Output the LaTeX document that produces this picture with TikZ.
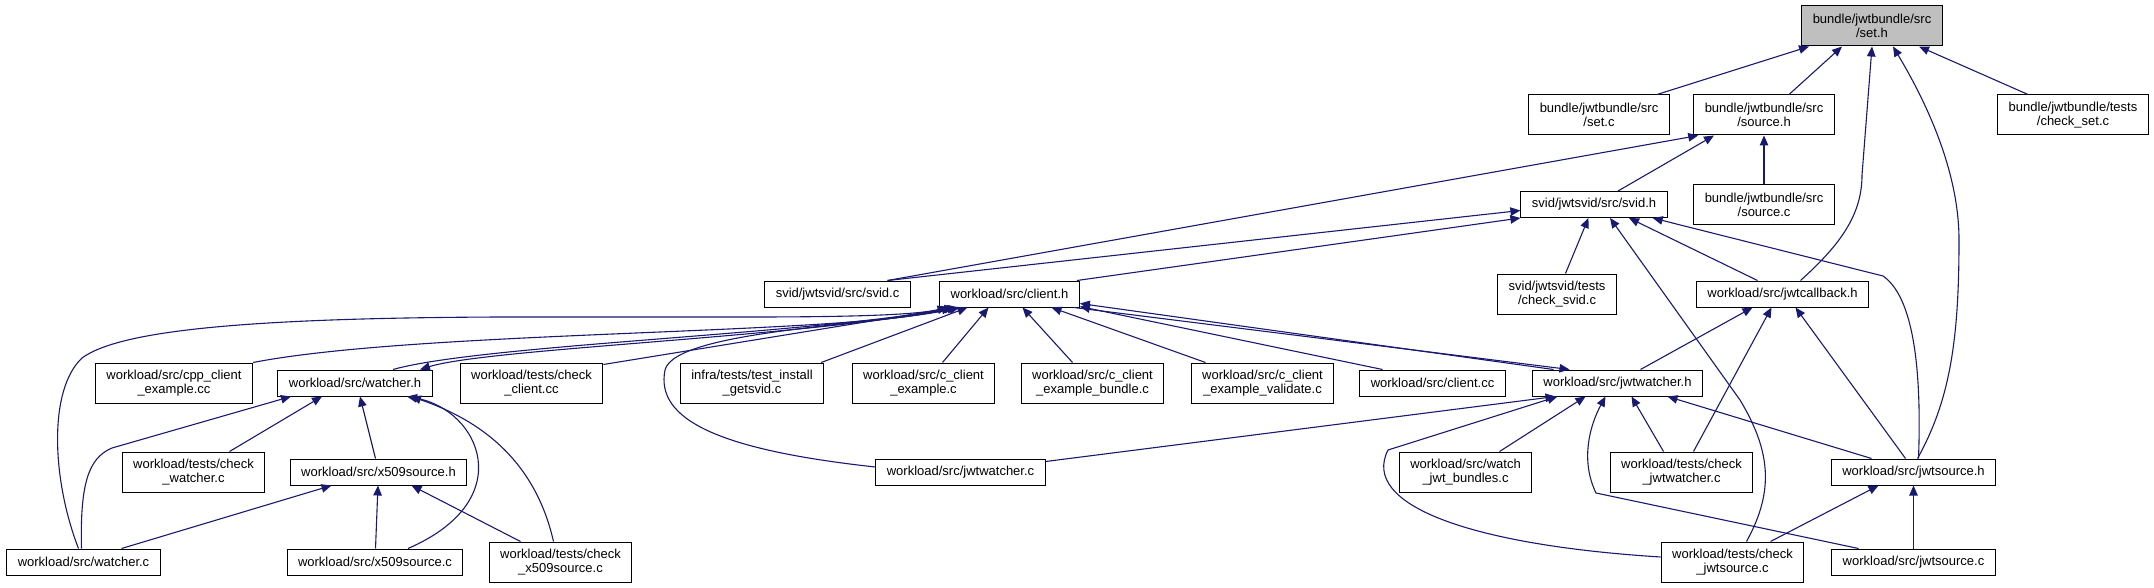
\documentclass[tikz,border=0pt]{standalone}
\usepackage{fontspec}
\setmainfont{Liberation Sans}
\usetikzlibrary{arrows.meta}
\usetikzlibrary{positioning}
\definecolor{c1}{rgb}{0.10, 0.10, 0.44}
\definecolor{c2}{rgb}{0.75, 0.75, 0.75}
\tikzset{
  file/.style={rectangle, draw=black, line width=1pt, fill=white, align=center, inner xsep=11pt, inner ysep=6pt, minimum height=26pt, font=\fontsize{13pt}{14pt}\selectfont},
  file2/.style={file, minimum height=40pt},
  filecur/.style={file2, fill=c2},
  dep/.style = {-{Triangle[length=10pt, width=8.5pt]}, c1, line width=1.1pt},
}

\begin{document}
\begin{tikzpicture}[x=1pt, y=-1pt]
\useasboundingbox (0,0) rectangle (2154,588);

% top
\node[filecur] (seth) at (1872,26) {bundle/jwtbundle/src\\/set.h};

\node[file2] (setc) at (1599,115) {bundle/jwtbundle/src\\/set.c};

\node[file2] (sourceh) at (1764,115) {bundle/jwtbundle/src\\/source.h};

\node[file2] (checkset) at (2073,115) {bundle/jwtbundle/tests\\/check\_set.c};

\node[file] (svidh) at (1594,204.5) {svid/jwtsvid/src/svid.h};

\node[file2] (sourcec) at (1764,204.5) {bundle/jwtbundle/src\\/source.c};

\node[file] (svidc) at (837.5,294) {svid/jwtsvid/src/svid.c};

\node[file] (clienth) at (1009.5,294) {workload/src/client.h};

\node[file2] (checksvid) at (1557,294) {svid/jwtsvid/tests\\/check\_svid.c};

\node[file] (jwtcallback) at (1782.5,294) {workload/src/jwtcallback.h};

% middle
\node[file2] (cppclient) at (174,383) {workload/src/cpp\_client\\\_example.cc};

\node[file] (watcherh) at (355,383) {workload/src/watcher.h};

\node[file2] (checkclient) at (531.5,383) {workload/tests/check\\\_client.cc};

\node[file2] (testinstall) at (752,383) {infra/tests/test\_install\\\_getsvid.c};

\node[file2] (cclientex) at (923.5,383) {workload/src/c\_client\\\_example.c};

\node[file2] (cclientbundle) at (1092.5,383) {workload/src/c\_client\\\_example\_bundle.c};

\node[file2] (cclientvalidate) at (1262.5,383) {workload/src/c\_client\\\_example\_validate.c};

\node[file] (clientcc) at (1432.5,383) {workload/src/client.cc};

\node[file] (jwtwatcherh) at (1617.5,383) {workload/src/jwtwatcher.h};

\node[file2] (checkwatcher) at (193.5,472) {workload/tests/check\\\_watcher.c};

\node[file] (x509h) at (378.5,472) {workload/src/x509source.h};

\node[file] (jwtwatcherc) at (960.5,472) {workload/src/jwtwatcher.c};

\node[file2] (watchjwt) at (1465.5,472) {workload/src/watch\\\_jwt\_bundles.c};

\node[file2] (checkjwtwatcher) at (1681.5,472) {workload/tests/check\\\_jwtwatcher.c};

\node[file] (jwtsourceh) at (1913.5,472) {workload/src/jwtsource.h};

% bottom
\node[file] (watcherc) at (83.5,562) {workload/src/watcher.c};

\node[file] (x509c) at (375,562) {workload/src/x509source.c};

\node[file2] (checkx509) at (560.5,562) {workload/tests/check\\\_x509source.c};

\node[file2] (checkjwtsource) at (1732.5,562) {workload/tests/check\\\_jwtsource.c};

\node[file] (jwtsourcec) at (1913.5,562) {workload/src/jwtsource.c};

% set.h
\draw ([xshift=58pt]setc.north) edge[dep] ([xshift=-63pt]seth.south);
\draw ([xshift=25pt]sourceh.north) edge[dep] ([xshift=-30pt]seth.south);
\draw ([xshift=-45pt]checkset.north) edge[dep] ([xshift=47pt]seth.south);
\draw[dep] ([xshift=18pt]jwtcallback.north) .. controls (1840,245) and (1862,215) .. (1862,175) -- (seth.south);
\draw[dep] ([xshift=4pt]jwtsourceh.north) .. controls (1950,400) and (1959,340) .. (1959,240) .. controls (1959,170) and (1925,100) .. ([xshift=21pt]seth.south);

% source.h
\draw ([xshift=50pt]svidc.north) edge[dep] ([xshift=5pt]sourceh.south west);
\draw ([xshift=24pt]svidh.north) edge[dep] ([xshift=-50pt]sourceh.south);
\draw (sourcec) edge[dep] (sourceh);

% svid.h
\draw ([xshift=50pt]svidc.north) edge[dep] ([yshift=-6pt]svidh.west);
\draw ([xshift=-3pt]clienth.north east) edge[dep] (svidh.south west);
\draw (checksvid) edge[dep] (svidh);
\draw[dep] ([xshift=14pt]checkjwtsource.north) .. controls (1775,490) and (1770,450) .. (1740,400) -- ([xshift=16pt]svidh.south);
\draw ([xshift=-25pt]jwtcallback.north) edge[dep] ([xshift=35pt]svidh.south);
\draw[dep] ([xshift=5pt]jwtsourceh.north) .. controls (1921,390) and (1918,300) .. (1883,276) -- ([xshift=-15pt]svidh.south east);

% jwtcallback.h
\draw ([xshift=23pt]jwtwatcherh.north) edge[dep] ([xshift=-30pt]jwtcallback.south);
\draw ([xshift=12pt]checkjwtwatcher.north) edge[dep] ([xshift=-11pt]jwtcallback.south);
\draw ([xshift=-8pt]jwtsourceh.north) edge[dep] ([xshift=13pt]jwtcallback.south);

% jwtsource.h
\draw ([xshift=38pt]checkjwtsource.north) edge[dep] ([xshift=-35pt]jwtsourceh.south);
\draw (jwtsourcec) edge[dep] (jwtsourceh);

% jwtwatcher.h
\draw ([yshift=-3pt]jwtwatcherc.north east) edge[dep] ([xshift=-62pt]jwtwatcherh.south);
\draw ([xshift=34pt]watchjwt.north) edge[dep] ([xshift=-32pt]jwtwatcherh.south);
\draw ([xshift=-18pt]checkjwtwatcher.north) edge[dep] ([xshift=14pt]jwtwatcherh.south);
\draw ([xshift=-42pt]jwtsourceh.north) edge[dep] ([xshift=50pt]jwtwatcherh.south);
\draw[dep] ([yshift=5pt]checkjwtsource.west) .. controls (1470,545) and (1360,505) .. (1388,450) -- ([xshift=-60pt]jwtwatcherh.south);
\draw[dep] ([xshift=-55pt]jwtsourcec.north) -- (1596,493) .. controls (1580,460) and (1590,425) .. ([xshift=-12pt]jwtwatcherh.south);
\draw ([xshift=-6pt]clienth.south east) edge[dep] ([xshift=-48pt]jwtwatcherh.north);

% client.h
\draw ([xshift=-64pt]jwtwatcherh.north) edge[dep] ([yshift=4pt]clienth.south east);
\draw ([xshift=-50pt]clientcc.north) edge[dep] ([yshift=1pt]clienth.south east);
\draw ([xshift=-57pt]cclientvalidate.north) edge[dep] ([xshift=42pt]clienth.south);
\draw ([xshift=-20pt]cclientbundle.north) edge[dep] ([xshift=13pt]clienth.south);
\draw ([xshift=19pt]cclientex.north) edge[dep] ([xshift=-21pt]clienth.south);
\draw ([xshift=-3pt]testinstall.north east) edge[dep] ([xshift=-42pt]clienth.south);
\draw ([yshift=-2pt]checkclient.north east) edge[dep] ([xshift=-55pt]clienth.south);
\draw[dep] (cppclient.north east) .. controls (420,330) and (850,335) .. ([xshift=-58pt]clienth.south);
\draw[dep] ([xshift=-5pt]watcherc.north) .. controls (52,480) and (48,390) .. (82,358) .. controls (120,330) and (250,318) .. (500,317) -- (750,317) .. controls (850,317) and (915,315) .. ([xshift=-62pt]clienth.south);
\draw[dep] ([xshift=38pt]watcherh.north) .. controls (480,345) and (800,335) .. ([xshift=-52pt]clienth.south);
\draw[dep] ([xshift=-49pt]clienth.south) .. controls (800,338) and (490,348) .. ([xshift=65pt]watcherh.north);
\draw[dep] ([yshift=5pt]jwtwatcherc.west) .. controls (720,450) and (655,420) .. (665,370) .. controls (675,330) and (880,325) .. ([xshift=-50pt]clienth.south);

% watcher.h
\draw[dep] ([xshift=-2pt]watcherc.north) .. controls (80,485) and (88,458) .. (112,448) -- ([xshift=-64pt]watcherh.south);
\draw ([xshift=36pt]checkwatcher.north) edge[dep] ([xshift=-33pt]watcherh.south);
\draw ([xshift=-3pt]x509h.north) edge[dep] ([xshift=5pt]watcherh.south);
\draw[dep] ([xshift=33pt]x509c.north) .. controls (520,500) and (480,410) .. ([xshift=52pt]watcherh.south);
\draw[dep] ([xshift=-7pt]checkx509.north) .. controls (535,460) and (480,420) .. ([xshift=56pt]watcherh.south);

% x509source.h
\draw ([xshift=38pt]watcherc.north) edge[dep] ([xshift=-47pt]x509h.south);
\draw (x509c) edge[dep] (x509h);
\draw ([xshift=-40pt]checkx509.north) edge[dep] ([xshift=33pt]x509h.south);

\end{tikzpicture}
\end{document}
